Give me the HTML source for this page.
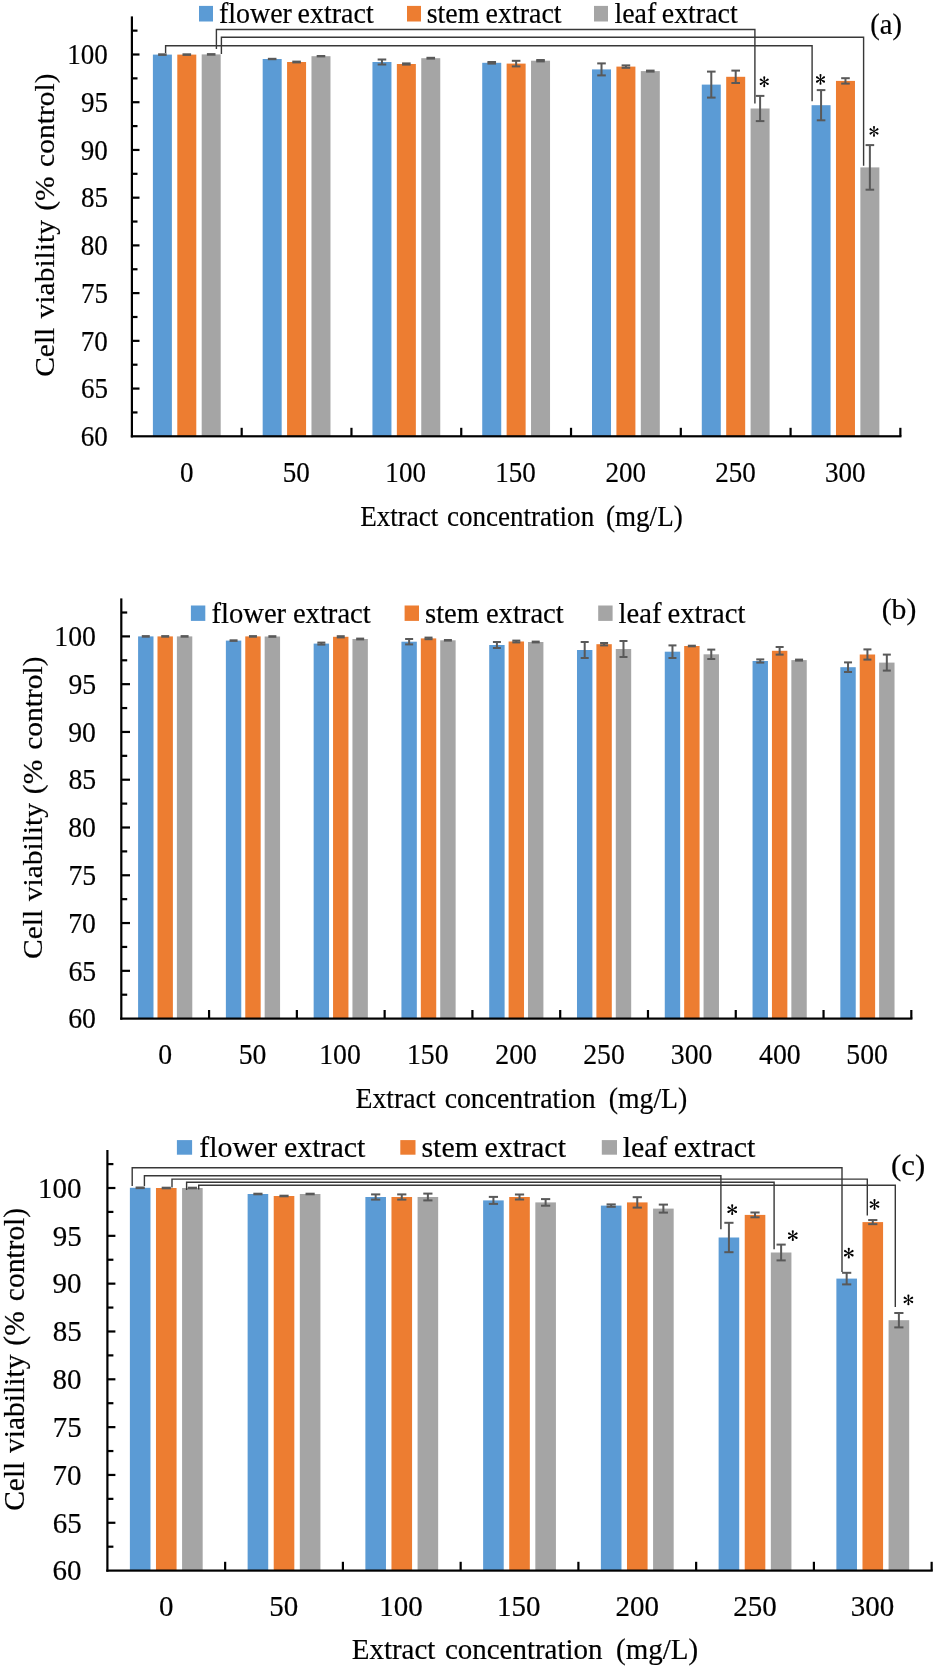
<!DOCTYPE html><html><head><meta charset="utf-8"><style>html,body{margin:0;padding:0;background:#fff;overflow:hidden}svg{display:block;will-change:transform}text{font-family:"Liberation Serif",serif;fill:#000;stroke:#000;stroke-width:0.2px;white-space:pre}</style></head><body>
<svg width="935" height="1668" viewBox="0 0 935 1668">
<rect width="935" height="1668" fill="#fff"/>
<rect x="152.89" y="54.60" width="19.00" height="381.70" fill="#5B9BD5"/>
<rect x="177.29" y="54.60" width="19.00" height="381.70" fill="#ED7D31"/>
<rect x="201.69" y="54.40" width="19.00" height="381.90" fill="#A5A5A5"/>
<rect x="262.67" y="59.00" width="19.00" height="377.30" fill="#5B9BD5"/>
<rect x="287.07" y="62.00" width="19.00" height="374.30" fill="#ED7D31"/>
<rect x="311.47" y="56.20" width="19.00" height="380.10" fill="#A5A5A5"/>
<rect x="372.45" y="62.00" width="19.00" height="374.30" fill="#5B9BD5"/>
<rect x="396.85" y="64.00" width="19.00" height="372.30" fill="#ED7D31"/>
<rect x="421.25" y="58.20" width="19.00" height="378.10" fill="#A5A5A5"/>
<rect x="482.23" y="62.80" width="19.00" height="373.50" fill="#5B9BD5"/>
<rect x="506.63" y="63.60" width="19.00" height="372.70" fill="#ED7D31"/>
<rect x="531.03" y="60.70" width="19.00" height="375.60" fill="#A5A5A5"/>
<rect x="592.01" y="69.40" width="19.00" height="366.90" fill="#5B9BD5"/>
<rect x="616.41" y="66.60" width="19.00" height="369.70" fill="#ED7D31"/>
<rect x="640.81" y="71.10" width="19.00" height="365.20" fill="#A5A5A5"/>
<rect x="701.79" y="84.60" width="19.00" height="351.70" fill="#5B9BD5"/>
<rect x="726.19" y="76.80" width="19.00" height="359.50" fill="#ED7D31"/>
<rect x="750.59" y="108.50" width="19.00" height="327.80" fill="#A5A5A5"/>
<rect x="811.57" y="105.20" width="19.00" height="331.10" fill="#5B9BD5"/>
<rect x="835.97" y="80.90" width="19.00" height="355.40" fill="#ED7D31"/>
<rect x="860.37" y="167.40" width="19.00" height="268.90" fill="#A5A5A5"/>
<rect x="158.09" y="53.30" width="8.60" height="2.60" fill="#595959"/>
<rect x="182.49" y="53.30" width="8.60" height="2.60" fill="#595959"/>
<rect x="206.89" y="53.10" width="8.60" height="2.60" fill="#595959"/>
<rect x="267.87" y="57.80" width="8.60" height="2.40" fill="#595959"/>
<rect x="292.27" y="60.60" width="8.60" height="2.80" fill="#595959"/>
<rect x="316.67" y="55.00" width="8.60" height="2.40" fill="#595959"/>
<rect x="380.95" y="59.50" width="2.00" height="5.00" fill="#595959"/>
<rect x="377.65" y="58.50" width="8.60" height="2.00" fill="#595959"/>
<rect x="377.65" y="63.50" width="8.60" height="2.00" fill="#595959"/>
<rect x="402.05" y="62.40" width="8.60" height="3.20" fill="#595959"/>
<rect x="426.45" y="56.80" width="8.60" height="2.80" fill="#595959"/>
<rect x="490.73" y="62.00" width="2.00" height="1.60" fill="#595959"/>
<rect x="487.43" y="61.00" width="8.60" height="2.00" fill="#595959"/>
<rect x="487.43" y="62.60" width="8.60" height="2.00" fill="#595959"/>
<rect x="515.13" y="60.80" width="2.00" height="5.60" fill="#595959"/>
<rect x="511.83" y="59.80" width="8.60" height="2.00" fill="#595959"/>
<rect x="511.83" y="65.40" width="8.60" height="2.00" fill="#595959"/>
<rect x="539.53" y="60.00" width="2.00" height="1.40" fill="#595959"/>
<rect x="536.23" y="59.00" width="8.60" height="2.00" fill="#595959"/>
<rect x="536.23" y="60.40" width="8.60" height="2.00" fill="#595959"/>
<rect x="600.51" y="63.40" width="2.00" height="12.00" fill="#595959"/>
<rect x="597.21" y="62.40" width="8.60" height="2.00" fill="#595959"/>
<rect x="597.21" y="74.40" width="8.60" height="2.00" fill="#595959"/>
<rect x="624.91" y="65.40" width="2.00" height="2.40" fill="#595959"/>
<rect x="621.61" y="64.40" width="8.60" height="2.00" fill="#595959"/>
<rect x="621.61" y="66.80" width="8.60" height="2.00" fill="#595959"/>
<rect x="646.01" y="69.60" width="8.60" height="3.00" fill="#595959"/>
<rect x="710.29" y="71.60" width="2.00" height="26.00" fill="#595959"/>
<rect x="706.99" y="70.60" width="8.60" height="2.00" fill="#595959"/>
<rect x="706.99" y="96.60" width="8.60" height="2.00" fill="#595959"/>
<rect x="734.69" y="70.60" width="2.00" height="12.40" fill="#595959"/>
<rect x="731.39" y="69.60" width="8.60" height="2.00" fill="#595959"/>
<rect x="731.39" y="82.00" width="8.60" height="2.00" fill="#595959"/>
<rect x="759.09" y="95.90" width="2.00" height="25.20" fill="#595959"/>
<rect x="755.79" y="94.90" width="8.60" height="2.00" fill="#595959"/>
<rect x="755.79" y="120.10" width="8.60" height="2.00" fill="#595959"/>
<rect x="820.07" y="90.10" width="2.00" height="30.20" fill="#595959"/>
<rect x="816.77" y="89.10" width="8.60" height="2.00" fill="#595959"/>
<rect x="816.77" y="119.30" width="8.60" height="2.00" fill="#595959"/>
<rect x="844.47" y="78.20" width="2.00" height="5.40" fill="#595959"/>
<rect x="841.17" y="77.20" width="8.60" height="2.00" fill="#595959"/>
<rect x="841.17" y="82.60" width="8.60" height="2.00" fill="#595959"/>
<rect x="868.87" y="145.10" width="2.00" height="44.60" fill="#595959"/>
<rect x="865.57" y="144.10" width="8.60" height="2.00" fill="#595959"/>
<rect x="865.57" y="188.70" width="8.60" height="2.00" fill="#595959"/>
<rect x="130.80" y="16.40" width="2.20" height="421.00" fill="#000"/>
<rect x="130.80" y="435.20" width="770.66" height="2.20" fill="#000"/>
<rect x="131.90" y="411.34" width="5.60" height="2.20" fill="#000"/>
<rect x="131.90" y="387.47" width="7.60" height="2.20" fill="#000"/>
<rect x="131.90" y="363.61" width="5.60" height="2.20" fill="#000"/>
<rect x="131.90" y="339.75" width="7.60" height="2.20" fill="#000"/>
<rect x="131.90" y="315.89" width="5.60" height="2.20" fill="#000"/>
<rect x="131.90" y="292.02" width="7.60" height="2.20" fill="#000"/>
<rect x="131.90" y="268.16" width="5.60" height="2.20" fill="#000"/>
<rect x="131.90" y="244.30" width="7.60" height="2.20" fill="#000"/>
<rect x="131.90" y="220.44" width="5.60" height="2.20" fill="#000"/>
<rect x="131.90" y="196.58" width="7.60" height="2.20" fill="#000"/>
<rect x="131.90" y="172.71" width="5.60" height="2.20" fill="#000"/>
<rect x="131.90" y="148.85" width="7.60" height="2.20" fill="#000"/>
<rect x="131.90" y="124.99" width="5.60" height="2.20" fill="#000"/>
<rect x="131.90" y="101.12" width="7.60" height="2.20" fill="#000"/>
<rect x="131.90" y="77.26" width="5.60" height="2.20" fill="#000"/>
<rect x="131.90" y="53.40" width="7.60" height="2.20" fill="#000"/>
<rect x="131.90" y="29.54" width="5.60" height="2.20" fill="#000"/>
<rect x="240.58" y="427.80" width="2.20" height="8.50" fill="#000"/>
<rect x="350.36" y="427.80" width="2.20" height="8.50" fill="#000"/>
<rect x="460.14" y="427.80" width="2.20" height="8.50" fill="#000"/>
<rect x="569.92" y="427.80" width="2.20" height="8.50" fill="#000"/>
<rect x="679.70" y="427.80" width="2.20" height="8.50" fill="#000"/>
<rect x="789.48" y="427.80" width="2.20" height="8.50" fill="#000"/>
<rect x="899.26" y="427.80" width="2.20" height="8.50" fill="#000"/>
<text transform="translate(80.67,446.05) scale(0.917,1)" font-size="29.5">60</text>
<text transform="translate(80.89,398.32) scale(0.917,1)" font-size="29.5">65</text>
<text transform="translate(80.67,350.60) scale(0.917,1)" font-size="29.5">70</text>
<text transform="translate(80.89,302.75) scale(0.917,1)" font-size="29.5">75</text>
<text transform="translate(80.67,255.15) scale(0.917,1)" font-size="29.5">80</text>
<text transform="translate(80.89,207.43) scale(0.917,1)" font-size="29.5">85</text>
<text transform="translate(80.67,159.70) scale(0.917,1)" font-size="29.5">90</text>
<text transform="translate(80.89,111.97) scale(0.917,1)" font-size="29.5">95</text>
<text transform="translate(67.14,64.25) scale(0.917,1)" font-size="29.5">100</text>
<text transform="translate(180.03,482.35) scale(0.917,1)" font-size="29.5">0</text>
<text transform="translate(282.70,482.35) scale(0.917,1)" font-size="29.5">50</text>
<text transform="translate(385.37,482.35) scale(0.917,1)" font-size="29.5">100</text>
<text transform="translate(495.15,482.35) scale(0.917,1)" font-size="29.5">150</text>
<text transform="translate(605.51,482.35) scale(0.917,1)" font-size="29.5">200</text>
<text transform="translate(715.29,482.35) scale(0.917,1)" font-size="29.5">250</text>
<text transform="translate(824.95,482.35) scale(0.917,1)" font-size="29.5">300</text>
<text transform="translate(360.21,525.90) scale(0.917,1)" font-size="29.5">Extract</text>
<text transform="translate(446.98,525.90) scale(0.917,1)" font-size="29.5">concentration</text>
<text transform="translate(606.05,525.90) scale(0.917,1)" font-size="29.5">(mg/L)</text>
<text transform="translate(53.80,376.85) rotate(-90) scale(1,0.917)" font-size="29.5">Cell</text>
<text transform="translate(53.80,318.40) rotate(-90) scale(1,0.917)" font-size="29.5">viability</text>
<text transform="translate(53.80,210.85) rotate(-90) scale(1,0.917)" font-size="29.5">(%</text>
<text transform="translate(53.80,166.90) rotate(-90) scale(1,0.917)" font-size="29.5">control)</text>
<rect x="199.00" y="5.90" width="14.00" height="15.60" fill="#5B9BD5"/>
<text transform="translate(218.95,23.40) scale(0.948,1)" font-size="29.5">flower</text>
<text transform="translate(297.62,23.40) scale(0.948,1)" font-size="29.5">extract</text>
<rect x="407.00" y="5.90" width="14.00" height="15.60" fill="#ED7D31"/>
<text transform="translate(426.71,23.40) scale(0.948,1)" font-size="29.5">stem</text>
<text transform="translate(485.51,23.40) scale(0.948,1)" font-size="29.5">extract</text>
<rect x="594.00" y="5.90" width="14.00" height="15.60" fill="#A5A5A5"/>
<text transform="translate(614.43,23.40) scale(0.948,1)" font-size="29.5">leaf</text>
<text transform="translate(661.72,23.40) scale(0.948,1)" font-size="29.5">extract</text>
<text transform="translate(870.29,33.72) scale(0.9700000000000008,1)" font-size="29.4">(a)</text>
<path d="M165.60,53.00 V45.70 H812.10 V101.20" fill="none" stroke="#383838" stroke-width="1.4"/>
<path d="M216.40,49.00 V29.50 H754.90 V103.50" fill="none" stroke="#383838" stroke-width="1.4"/>
<path d="M221.40,54.00 V37.30 H863.60 V165.80" fill="none" stroke="#383838" stroke-width="1.4"/>
<path transform="translate(764.25,81.75) scale(0.933,1)" d="M-0.220,-0.000L0.220,0.000L1.019,-4.097A1.05,1.05 0 1 0 -1.019,-4.097ZM-0.110,0.191L0.110,-0.191L-3.038,-2.931A1.05,1.05 0 1 0 -4.057,-1.166ZM0.110,0.191L-0.110,-0.191L-4.057,1.166A1.05,1.05 0 1 0 -3.038,2.931ZM0.220,0.000L-0.220,-0.000L-1.019,4.097A1.05,1.05 0 1 0 1.019,4.097ZM0.110,-0.191L-0.110,0.191L3.038,2.931A1.05,1.05 0 1 0 4.057,1.166ZM-0.110,-0.191L0.110,0.191L4.057,-1.166A1.05,1.05 0 1 0 3.038,-2.931Z" fill="#000"/>
<circle cx="764.25" cy="81.75" r="0.75" fill="#000"/>
<path transform="translate(820.50,79.45) scale(0.933,1)" d="M-0.220,-0.000L0.220,0.000L1.019,-4.097A1.05,1.05 0 1 0 -1.019,-4.097ZM-0.110,0.191L0.110,-0.191L-3.038,-2.931A1.05,1.05 0 1 0 -4.057,-1.166ZM0.110,0.191L-0.110,-0.191L-4.057,1.166A1.05,1.05 0 1 0 -3.038,2.931ZM0.220,0.000L-0.220,-0.000L-1.019,4.097A1.05,1.05 0 1 0 1.019,4.097ZM0.110,-0.191L-0.110,0.191L3.038,2.931A1.05,1.05 0 1 0 4.057,1.166ZM-0.110,-0.191L0.110,0.191L4.057,-1.166A1.05,1.05 0 1 0 3.038,-2.931Z" fill="#000"/>
<circle cx="820.50" cy="79.45" r="0.75" fill="#000"/>
<path transform="translate(874.00,131.35) scale(0.933,1)" d="M-0.220,-0.000L0.220,0.000L1.019,-4.097A1.05,1.05 0 1 0 -1.019,-4.097ZM-0.110,0.191L0.110,-0.191L-3.038,-2.931A1.05,1.05 0 1 0 -4.057,-1.166ZM0.110,0.191L-0.110,-0.191L-4.057,1.166A1.05,1.05 0 1 0 -3.038,2.931ZM0.220,0.000L-0.220,-0.000L-1.019,4.097A1.05,1.05 0 1 0 1.019,4.097ZM0.110,-0.191L-0.110,0.191L3.038,2.931A1.05,1.05 0 1 0 4.057,1.166ZM-0.110,-0.191L0.110,0.191L4.057,-1.166A1.05,1.05 0 1 0 3.038,-2.931Z" fill="#000"/>
<circle cx="874.00" cy="131.35" r="0.75" fill="#000"/>
<rect x="138.09" y="636.40" width="15.40" height="382.20" fill="#5B9BD5"/>
<rect x="157.49" y="636.40" width="15.40" height="382.20" fill="#ED7D31"/>
<rect x="176.89" y="636.40" width="15.40" height="382.20" fill="#A5A5A5"/>
<rect x="225.87" y="640.60" width="15.40" height="378.00" fill="#5B9BD5"/>
<rect x="245.27" y="636.40" width="15.40" height="382.20" fill="#ED7D31"/>
<rect x="264.67" y="636.50" width="15.40" height="382.10" fill="#A5A5A5"/>
<rect x="313.65" y="643.60" width="15.40" height="375.00" fill="#5B9BD5"/>
<rect x="333.05" y="636.80" width="15.40" height="381.80" fill="#ED7D31"/>
<rect x="352.45" y="639.00" width="15.40" height="379.60" fill="#A5A5A5"/>
<rect x="401.43" y="641.70" width="15.40" height="376.90" fill="#5B9BD5"/>
<rect x="420.83" y="638.40" width="15.40" height="380.20" fill="#ED7D31"/>
<rect x="440.23" y="640.30" width="15.40" height="378.30" fill="#A5A5A5"/>
<rect x="489.21" y="645.00" width="15.40" height="373.60" fill="#5B9BD5"/>
<rect x="508.61" y="641.50" width="15.40" height="377.10" fill="#ED7D31"/>
<rect x="528.01" y="642.00" width="15.40" height="376.60" fill="#A5A5A5"/>
<rect x="576.99" y="650.00" width="15.40" height="368.60" fill="#5B9BD5"/>
<rect x="596.39" y="644.20" width="15.40" height="374.40" fill="#ED7D31"/>
<rect x="615.79" y="649.00" width="15.40" height="369.60" fill="#A5A5A5"/>
<rect x="664.77" y="651.70" width="15.40" height="366.90" fill="#5B9BD5"/>
<rect x="684.17" y="646.00" width="15.40" height="372.60" fill="#ED7D31"/>
<rect x="703.57" y="654.30" width="15.40" height="364.30" fill="#A5A5A5"/>
<rect x="752.55" y="661.00" width="15.40" height="357.60" fill="#5B9BD5"/>
<rect x="771.95" y="650.80" width="15.40" height="367.80" fill="#ED7D31"/>
<rect x="791.35" y="660.10" width="15.40" height="358.50" fill="#A5A5A5"/>
<rect x="840.33" y="667.20" width="15.40" height="351.40" fill="#5B9BD5"/>
<rect x="859.73" y="654.50" width="15.40" height="364.10" fill="#ED7D31"/>
<rect x="879.13" y="662.60" width="15.40" height="356.00" fill="#A5A5A5"/>
<rect x="141.79" y="635.10" width="8.00" height="2.60" fill="#595959"/>
<rect x="161.19" y="635.10" width="8.00" height="2.60" fill="#595959"/>
<rect x="180.59" y="635.10" width="8.00" height="2.60" fill="#595959"/>
<rect x="229.57" y="639.30" width="8.00" height="2.60" fill="#595959"/>
<rect x="248.97" y="635.10" width="8.00" height="2.60" fill="#595959"/>
<rect x="268.37" y="635.20" width="8.00" height="2.60" fill="#595959"/>
<rect x="320.35" y="642.60" width="2.00" height="2.00" fill="#595959"/>
<rect x="317.35" y="641.60" width="8.00" height="2.00" fill="#595959"/>
<rect x="317.35" y="643.60" width="8.00" height="2.00" fill="#595959"/>
<rect x="336.75" y="635.20" width="8.00" height="3.20" fill="#595959"/>
<rect x="356.15" y="637.60" width="8.00" height="2.80" fill="#595959"/>
<rect x="408.13" y="639.00" width="2.00" height="5.40" fill="#595959"/>
<rect x="405.13" y="638.00" width="8.00" height="2.00" fill="#595959"/>
<rect x="405.13" y="643.40" width="8.00" height="2.00" fill="#595959"/>
<rect x="427.53" y="637.60" width="2.00" height="1.60" fill="#595959"/>
<rect x="424.53" y="636.60" width="8.00" height="2.00" fill="#595959"/>
<rect x="424.53" y="638.20" width="8.00" height="2.00" fill="#595959"/>
<rect x="443.93" y="639.00" width="8.00" height="2.60" fill="#595959"/>
<rect x="495.91" y="642.00" width="2.00" height="6.00" fill="#595959"/>
<rect x="492.91" y="641.00" width="8.00" height="2.00" fill="#595959"/>
<rect x="492.91" y="647.00" width="8.00" height="2.00" fill="#595959"/>
<rect x="515.31" y="640.60" width="2.00" height="1.80" fill="#595959"/>
<rect x="512.31" y="639.60" width="8.00" height="2.00" fill="#595959"/>
<rect x="512.31" y="641.40" width="8.00" height="2.00" fill="#595959"/>
<rect x="531.71" y="640.60" width="8.00" height="2.80" fill="#595959"/>
<rect x="583.69" y="642.00" width="2.00" height="16.00" fill="#595959"/>
<rect x="580.69" y="641.00" width="8.00" height="2.00" fill="#595959"/>
<rect x="580.69" y="657.00" width="8.00" height="2.00" fill="#595959"/>
<rect x="603.09" y="643.00" width="2.00" height="2.40" fill="#595959"/>
<rect x="600.09" y="642.00" width="8.00" height="2.00" fill="#595959"/>
<rect x="600.09" y="644.40" width="8.00" height="2.00" fill="#595959"/>
<rect x="622.49" y="641.00" width="2.00" height="16.00" fill="#595959"/>
<rect x="619.49" y="640.00" width="8.00" height="2.00" fill="#595959"/>
<rect x="619.49" y="656.00" width="8.00" height="2.00" fill="#595959"/>
<rect x="671.47" y="645.40" width="2.00" height="12.60" fill="#595959"/>
<rect x="668.47" y="644.40" width="8.00" height="2.00" fill="#595959"/>
<rect x="668.47" y="657.00" width="8.00" height="2.00" fill="#595959"/>
<rect x="687.87" y="644.70" width="8.00" height="2.60" fill="#595959"/>
<rect x="710.27" y="649.60" width="2.00" height="9.40" fill="#595959"/>
<rect x="707.27" y="648.60" width="8.00" height="2.00" fill="#595959"/>
<rect x="707.27" y="658.00" width="8.00" height="2.00" fill="#595959"/>
<rect x="759.25" y="659.40" width="2.00" height="3.20" fill="#595959"/>
<rect x="756.25" y="658.40" width="8.00" height="2.00" fill="#595959"/>
<rect x="756.25" y="661.60" width="8.00" height="2.00" fill="#595959"/>
<rect x="778.65" y="647.00" width="2.00" height="7.60" fill="#595959"/>
<rect x="775.65" y="646.00" width="8.00" height="2.00" fill="#595959"/>
<rect x="775.65" y="653.60" width="8.00" height="2.00" fill="#595959"/>
<rect x="795.05" y="658.60" width="8.00" height="3.00" fill="#595959"/>
<rect x="847.03" y="662.40" width="2.00" height="9.60" fill="#595959"/>
<rect x="844.03" y="661.40" width="8.00" height="2.00" fill="#595959"/>
<rect x="844.03" y="671.00" width="8.00" height="2.00" fill="#595959"/>
<rect x="866.43" y="649.40" width="2.00" height="10.20" fill="#595959"/>
<rect x="863.43" y="648.40" width="8.00" height="2.00" fill="#595959"/>
<rect x="863.43" y="658.60" width="8.00" height="2.00" fill="#595959"/>
<rect x="885.83" y="654.60" width="2.00" height="16.00" fill="#595959"/>
<rect x="882.83" y="653.60" width="8.00" height="2.00" fill="#595959"/>
<rect x="882.83" y="669.60" width="8.00" height="2.00" fill="#595959"/>
<rect x="120.20" y="598.40" width="2.20" height="421.30" fill="#000"/>
<rect x="120.20" y="1017.50" width="792.22" height="2.20" fill="#000"/>
<rect x="121.30" y="993.61" width="5.90" height="2.20" fill="#000"/>
<rect x="121.30" y="969.73" width="8.70" height="2.20" fill="#000"/>
<rect x="121.30" y="945.84" width="5.90" height="2.20" fill="#000"/>
<rect x="121.30" y="921.95" width="8.70" height="2.20" fill="#000"/>
<rect x="121.30" y="898.06" width="5.90" height="2.20" fill="#000"/>
<rect x="121.30" y="874.17" width="8.70" height="2.20" fill="#000"/>
<rect x="121.30" y="850.29" width="5.90" height="2.20" fill="#000"/>
<rect x="121.30" y="826.40" width="8.70" height="2.20" fill="#000"/>
<rect x="121.30" y="802.51" width="5.90" height="2.20" fill="#000"/>
<rect x="121.30" y="778.62" width="8.70" height="2.20" fill="#000"/>
<rect x="121.30" y="754.74" width="5.90" height="2.20" fill="#000"/>
<rect x="121.30" y="730.85" width="8.70" height="2.20" fill="#000"/>
<rect x="121.30" y="706.96" width="5.90" height="2.20" fill="#000"/>
<rect x="121.30" y="683.07" width="8.70" height="2.20" fill="#000"/>
<rect x="121.30" y="659.19" width="5.90" height="2.20" fill="#000"/>
<rect x="121.30" y="635.30" width="8.70" height="2.20" fill="#000"/>
<rect x="121.30" y="611.41" width="5.90" height="2.20" fill="#000"/>
<rect x="207.98" y="1010.00" width="2.20" height="8.60" fill="#000"/>
<rect x="295.76" y="1010.00" width="2.20" height="8.60" fill="#000"/>
<rect x="383.54" y="1010.00" width="2.20" height="8.60" fill="#000"/>
<rect x="471.32" y="1010.00" width="2.20" height="8.60" fill="#000"/>
<rect x="559.10" y="1010.00" width="2.20" height="8.60" fill="#000"/>
<rect x="646.88" y="1010.00" width="2.20" height="8.60" fill="#000"/>
<rect x="734.66" y="1010.00" width="2.20" height="8.60" fill="#000"/>
<rect x="822.44" y="1010.00" width="2.20" height="8.60" fill="#000"/>
<rect x="910.22" y="1010.00" width="2.20" height="8.60" fill="#000"/>
<text transform="translate(68.18,1028.35) scale(0.941,1)" font-size="29.5">60</text>
<text transform="translate(68.42,980.58) scale(0.941,1)" font-size="29.5">65</text>
<text transform="translate(68.18,932.80) scale(0.941,1)" font-size="29.5">70</text>
<text transform="translate(68.42,884.90) scale(0.941,1)" font-size="29.5">75</text>
<text transform="translate(68.18,837.25) scale(0.941,1)" font-size="29.5">80</text>
<text transform="translate(68.42,789.48) scale(0.941,1)" font-size="29.5">85</text>
<text transform="translate(68.18,741.70) scale(0.941,1)" font-size="29.5">90</text>
<text transform="translate(68.42,693.92) scale(0.941,1)" font-size="29.5">95</text>
<text transform="translate(54.30,646.15) scale(0.941,1)" font-size="29.5">100</text>
<text transform="translate(158.25,1063.65) scale(0.941,1)" font-size="29.5">0</text>
<text transform="translate(238.74,1063.65) scale(0.941,1)" font-size="29.5">50</text>
<text transform="translate(319.22,1063.65) scale(0.941,1)" font-size="29.5">100</text>
<text transform="translate(407.00,1063.65) scale(0.941,1)" font-size="29.5">150</text>
<text transform="translate(495.37,1063.65) scale(0.941,1)" font-size="29.5">200</text>
<text transform="translate(583.15,1063.65) scale(0.941,1)" font-size="29.5">250</text>
<text transform="translate(670.82,1063.65) scale(0.941,1)" font-size="29.5">300</text>
<text transform="translate(759.07,1063.65) scale(0.941,1)" font-size="29.5">400</text>
<text transform="translate(846.26,1063.65) scale(0.941,1)" font-size="29.5">500</text>
<text transform="translate(355.49,1107.70) scale(0.941,1)" font-size="29.5">Extract</text>
<text transform="translate(444.66,1107.70) scale(0.941,1)" font-size="29.5">concentration</text>
<text transform="translate(608.72,1107.70) scale(0.941,1)" font-size="29.5">(mg/L)</text>
<text transform="translate(41.80,958.95) rotate(-90) scale(1,0.941)" font-size="29.5">Cell</text>
<text transform="translate(41.80,901.30) rotate(-90) scale(1,0.941)" font-size="29.5">viability</text>
<text transform="translate(41.80,794.15) rotate(-90) scale(1,0.941)" font-size="29.5">(%</text>
<text transform="translate(41.80,749.80) rotate(-90) scale(1,0.941)" font-size="29.5">control)</text>
<rect x="190.90" y="605.50" width="14.40" height="15.40" fill="#5B9BD5"/>
<text transform="translate(211.43,622.90) scale(0.971,1)" font-size="29.5">flower</text>
<text transform="translate(292.89,622.90) scale(0.971,1)" font-size="29.5">extract</text>
<rect x="404.60" y="605.50" width="14.40" height="15.40" fill="#ED7D31"/>
<text transform="translate(424.99,622.90) scale(0.971,1)" font-size="29.5">stem</text>
<text transform="translate(485.89,622.90) scale(0.971,1)" font-size="29.5">extract</text>
<rect x="598.20" y="605.50" width="14.40" height="15.40" fill="#A5A5A5"/>
<text transform="translate(618.61,622.90) scale(0.971,1)" font-size="29.5">leaf</text>
<text transform="translate(667.59,622.90) scale(0.971,1)" font-size="29.5">extract</text>
<text transform="translate(881.74,618.75) scale(1.0078740157480315,1)" font-size="29.4">(b)</text>
<rect x="129.88" y="1187.80" width="20.60" height="382.80" fill="#5B9BD5"/>
<rect x="155.97" y="1188.00" width="20.60" height="382.60" fill="#ED7D31"/>
<rect x="182.07" y="1188.00" width="20.60" height="382.60" fill="#A5A5A5"/>
<rect x="247.62" y="1194.00" width="20.60" height="376.60" fill="#5B9BD5"/>
<rect x="273.72" y="1196.00" width="20.60" height="374.60" fill="#ED7D31"/>
<rect x="299.82" y="1194.00" width="20.60" height="376.60" fill="#A5A5A5"/>
<rect x="365.37" y="1197.00" width="20.60" height="373.60" fill="#5B9BD5"/>
<rect x="391.47" y="1197.00" width="20.60" height="373.60" fill="#ED7D31"/>
<rect x="417.57" y="1197.00" width="20.60" height="373.60" fill="#A5A5A5"/>
<rect x="483.12" y="1200.40" width="20.60" height="370.20" fill="#5B9BD5"/>
<rect x="509.22" y="1197.00" width="20.60" height="373.60" fill="#ED7D31"/>
<rect x="535.33" y="1202.40" width="20.60" height="368.20" fill="#A5A5A5"/>
<rect x="600.88" y="1205.60" width="20.60" height="365.00" fill="#5B9BD5"/>
<rect x="626.98" y="1202.40" width="20.60" height="368.20" fill="#ED7D31"/>
<rect x="653.08" y="1208.60" width="20.60" height="362.00" fill="#A5A5A5"/>
<rect x="718.62" y="1237.50" width="20.60" height="333.10" fill="#5B9BD5"/>
<rect x="744.73" y="1214.90" width="20.60" height="355.70" fill="#ED7D31"/>
<rect x="770.83" y="1252.50" width="20.60" height="318.10" fill="#A5A5A5"/>
<rect x="836.38" y="1278.60" width="20.60" height="292.00" fill="#5B9BD5"/>
<rect x="862.48" y="1222.10" width="20.60" height="348.50" fill="#ED7D31"/>
<rect x="888.58" y="1320.20" width="20.60" height="250.40" fill="#A5A5A5"/>
<rect x="135.58" y="1186.50" width="9.20" height="2.60" fill="#595959"/>
<rect x="161.68" y="1186.70" width="9.20" height="2.60" fill="#595959"/>
<rect x="187.78" y="1186.70" width="9.20" height="2.60" fill="#595959"/>
<rect x="253.32" y="1192.70" width="9.20" height="2.60" fill="#595959"/>
<rect x="279.42" y="1194.70" width="9.20" height="2.60" fill="#595959"/>
<rect x="305.52" y="1192.70" width="9.20" height="2.60" fill="#595959"/>
<rect x="374.67" y="1194.40" width="2.00" height="5.20" fill="#595959"/>
<rect x="371.07" y="1193.40" width="9.20" height="2.00" fill="#595959"/>
<rect x="371.07" y="1198.60" width="9.20" height="2.00" fill="#595959"/>
<rect x="400.77" y="1194.40" width="2.00" height="5.20" fill="#595959"/>
<rect x="397.17" y="1193.40" width="9.20" height="2.00" fill="#595959"/>
<rect x="397.17" y="1198.60" width="9.20" height="2.00" fill="#595959"/>
<rect x="426.88" y="1193.60" width="2.00" height="6.80" fill="#595959"/>
<rect x="423.27" y="1192.60" width="9.20" height="2.00" fill="#595959"/>
<rect x="423.27" y="1199.40" width="9.20" height="2.00" fill="#595959"/>
<rect x="492.42" y="1196.90" width="2.00" height="7.00" fill="#595959"/>
<rect x="488.82" y="1195.90" width="9.20" height="2.00" fill="#595959"/>
<rect x="488.82" y="1202.90" width="9.20" height="2.00" fill="#595959"/>
<rect x="518.52" y="1194.50" width="2.00" height="5.00" fill="#595959"/>
<rect x="514.92" y="1193.50" width="9.20" height="2.00" fill="#595959"/>
<rect x="514.92" y="1198.50" width="9.20" height="2.00" fill="#595959"/>
<rect x="544.62" y="1199.10" width="2.00" height="6.60" fill="#595959"/>
<rect x="541.02" y="1198.10" width="9.20" height="2.00" fill="#595959"/>
<rect x="541.02" y="1204.70" width="9.20" height="2.00" fill="#595959"/>
<rect x="610.17" y="1204.40" width="2.00" height="2.40" fill="#595959"/>
<rect x="606.57" y="1203.40" width="9.20" height="2.00" fill="#595959"/>
<rect x="606.57" y="1205.80" width="9.20" height="2.00" fill="#595959"/>
<rect x="636.27" y="1197.20" width="2.00" height="10.40" fill="#595959"/>
<rect x="632.67" y="1196.20" width="9.20" height="2.00" fill="#595959"/>
<rect x="632.67" y="1206.60" width="9.20" height="2.00" fill="#595959"/>
<rect x="662.38" y="1204.60" width="2.00" height="8.00" fill="#595959"/>
<rect x="658.77" y="1203.60" width="9.20" height="2.00" fill="#595959"/>
<rect x="658.77" y="1211.60" width="9.20" height="2.00" fill="#595959"/>
<rect x="727.92" y="1222.80" width="2.00" height="29.40" fill="#595959"/>
<rect x="724.32" y="1221.80" width="9.20" height="2.00" fill="#595959"/>
<rect x="724.32" y="1251.20" width="9.20" height="2.00" fill="#595959"/>
<rect x="754.02" y="1212.50" width="2.00" height="4.80" fill="#595959"/>
<rect x="750.42" y="1211.50" width="9.20" height="2.00" fill="#595959"/>
<rect x="750.42" y="1216.30" width="9.20" height="2.00" fill="#595959"/>
<rect x="780.12" y="1244.60" width="2.00" height="15.80" fill="#595959"/>
<rect x="776.52" y="1243.60" width="9.20" height="2.00" fill="#595959"/>
<rect x="776.52" y="1259.40" width="9.20" height="2.00" fill="#595959"/>
<rect x="845.67" y="1272.80" width="2.00" height="11.60" fill="#595959"/>
<rect x="842.07" y="1271.80" width="9.20" height="2.00" fill="#595959"/>
<rect x="842.07" y="1283.40" width="9.20" height="2.00" fill="#595959"/>
<rect x="871.77" y="1220.05" width="2.00" height="4.10" fill="#595959"/>
<rect x="868.17" y="1219.05" width="9.20" height="2.00" fill="#595959"/>
<rect x="868.17" y="1223.15" width="9.20" height="2.00" fill="#595959"/>
<rect x="897.88" y="1313.00" width="2.00" height="14.40" fill="#595959"/>
<rect x="894.27" y="1312.00" width="9.20" height="2.00" fill="#595959"/>
<rect x="894.27" y="1326.40" width="9.20" height="2.00" fill="#595959"/>
<rect x="106.30" y="1150.00" width="2.20" height="421.70" fill="#000"/>
<rect x="106.30" y="1569.50" width="826.45" height="2.20" fill="#000"/>
<rect x="107.40" y="1545.59" width="6.00" height="2.20" fill="#000"/>
<rect x="107.40" y="1521.67" width="8.00" height="2.20" fill="#000"/>
<rect x="107.40" y="1497.76" width="6.00" height="2.20" fill="#000"/>
<rect x="107.40" y="1473.85" width="8.00" height="2.20" fill="#000"/>
<rect x="107.40" y="1449.94" width="6.00" height="2.20" fill="#000"/>
<rect x="107.40" y="1426.03" width="8.00" height="2.20" fill="#000"/>
<rect x="107.40" y="1402.11" width="6.00" height="2.20" fill="#000"/>
<rect x="107.40" y="1378.20" width="8.00" height="2.20" fill="#000"/>
<rect x="107.40" y="1354.29" width="6.00" height="2.20" fill="#000"/>
<rect x="107.40" y="1330.38" width="8.00" height="2.20" fill="#000"/>
<rect x="107.40" y="1306.46" width="6.00" height="2.20" fill="#000"/>
<rect x="107.40" y="1282.55" width="8.00" height="2.20" fill="#000"/>
<rect x="107.40" y="1258.64" width="6.00" height="2.20" fill="#000"/>
<rect x="107.40" y="1234.73" width="8.00" height="2.20" fill="#000"/>
<rect x="107.40" y="1210.81" width="6.00" height="2.20" fill="#000"/>
<rect x="107.40" y="1186.90" width="8.00" height="2.20" fill="#000"/>
<rect x="107.40" y="1162.99" width="6.00" height="2.20" fill="#000"/>
<rect x="224.05" y="1561.80" width="2.20" height="8.80" fill="#000"/>
<rect x="341.80" y="1561.80" width="2.20" height="8.80" fill="#000"/>
<rect x="459.55" y="1561.80" width="2.20" height="8.80" fill="#000"/>
<rect x="577.30" y="1561.80" width="2.20" height="8.80" fill="#000"/>
<rect x="695.05" y="1561.80" width="2.20" height="8.80" fill="#000"/>
<rect x="812.80" y="1561.80" width="2.20" height="8.80" fill="#000"/>
<rect x="930.55" y="1561.80" width="2.20" height="8.80" fill="#000"/>
<text transform="translate(52.41,1580.35) scale(0.982,1)" font-size="29.5">60</text>
<text transform="translate(52.66,1532.52) scale(0.982,1)" font-size="29.5">65</text>
<text transform="translate(52.41,1484.70) scale(0.982,1)" font-size="29.5">70</text>
<text transform="translate(52.66,1436.75) scale(0.982,1)" font-size="29.5">75</text>
<text transform="translate(52.41,1389.05) scale(0.982,1)" font-size="29.5">80</text>
<text transform="translate(52.66,1341.22) scale(0.982,1)" font-size="29.5">85</text>
<text transform="translate(52.41,1293.40) scale(0.982,1)" font-size="29.5">90</text>
<text transform="translate(52.66,1245.58) scale(0.982,1)" font-size="29.5">95</text>
<text transform="translate(37.93,1197.75) scale(0.982,1)" font-size="29.5">100</text>
<text transform="translate(159.03,1615.75) scale(0.982,1)" font-size="29.5">0</text>
<text transform="translate(269.17,1615.75) scale(0.982,1)" font-size="29.5">50</text>
<text transform="translate(379.31,1615.75) scale(0.982,1)" font-size="29.5">100</text>
<text transform="translate(497.06,1615.75) scale(0.982,1)" font-size="29.5">150</text>
<text transform="translate(615.43,1615.75) scale(0.982,1)" font-size="29.5">200</text>
<text transform="translate(733.18,1615.75) scale(0.982,1)" font-size="29.5">250</text>
<text transform="translate(850.80,1615.75) scale(0.982,1)" font-size="29.5">300</text>
<text transform="translate(351.76,1658.90) scale(0.982,1)" font-size="29.5">Extract</text>
<text transform="translate(444.92,1658.90) scale(0.982,1)" font-size="29.5">concentration</text>
<text transform="translate(616.07,1658.90) scale(0.982,1)" font-size="29.5">(mg/L)</text>
<text transform="translate(24.20,1510.85) rotate(-90) scale(1,0.982)" font-size="29.5">Cell</text>
<text transform="translate(24.20,1452.90) rotate(-90) scale(1,0.982)" font-size="29.5">viability</text>
<text transform="translate(24.20,1345.65) rotate(-90) scale(1,0.982)" font-size="29.5">(%</text>
<text transform="translate(24.20,1301.20) rotate(-90) scale(1,0.982)" font-size="29.5">control)</text>
<rect x="176.90" y="1140.10" width="15.20" height="14.60" fill="#5B9BD5"/>
<text transform="translate(199.19,1156.80) scale(1.015,1)" font-size="29.5">flower</text>
<text transform="translate(283.93,1156.80) scale(1.015,1)" font-size="29.5">extract</text>
<rect x="400.30" y="1140.10" width="15.20" height="14.60" fill="#ED7D31"/>
<text transform="translate(421.43,1156.80) scale(1.015,1)" font-size="29.5">stem</text>
<text transform="translate(484.53,1156.80) scale(1.015,1)" font-size="29.5">extract</text>
<rect x="601.80" y="1140.10" width="15.20" height="14.60" fill="#A5A5A5"/>
<text transform="translate(622.69,1156.80) scale(1.015,1)" font-size="29.5">leaf</text>
<text transform="translate(673.83,1156.80) scale(1.015,1)" font-size="29.5">extract</text>
<text transform="translate(890.99,1174.72) scale(1.0466666666666697,1)" font-size="29.4">(c)</text>
<path d="M132.20,1186.00 V1167.70 H842.00 V1272.00" fill="none" stroke="#383838" stroke-width="1.4"/>
<path d="M144.40,1186.00 V1175.80 H720.90 V1229.20" fill="none" stroke="#383838" stroke-width="1.4"/>
<path d="M172.00,1187.50 V1179.10 H867.30 V1215.50" fill="none" stroke="#383838" stroke-width="1.4"/>
<path d="M186.60,1190.00 V1182.30 H774.10 V1249.30" fill="none" stroke="#383838" stroke-width="1.4"/>
<path d="M198.70,1189.50 V1185.30 H895.30 V1307.00" fill="none" stroke="#383838" stroke-width="1.4"/>
<path transform="translate(732.20,1209.70) scale(1.0,1)" d="M-0.220,-0.000L0.220,0.000L1.019,-4.097A1.05,1.05 0 1 0 -1.019,-4.097ZM-0.110,0.191L0.110,-0.191L-3.038,-2.931A1.05,1.05 0 1 0 -4.057,-1.166ZM0.110,0.191L-0.110,-0.191L-4.057,1.166A1.05,1.05 0 1 0 -3.038,2.931ZM0.220,0.000L-0.220,-0.000L-1.019,4.097A1.05,1.05 0 1 0 1.019,4.097ZM0.110,-0.191L-0.110,0.191L3.038,2.931A1.05,1.05 0 1 0 4.057,1.166ZM-0.110,-0.191L0.110,0.191L4.057,-1.166A1.05,1.05 0 1 0 3.038,-2.931Z" fill="#000"/>
<circle cx="732.20" cy="1209.70" r="0.75" fill="#000"/>
<path transform="translate(792.80,1235.70) scale(1.0,1)" d="M-0.220,-0.000L0.220,0.000L1.019,-4.097A1.05,1.05 0 1 0 -1.019,-4.097ZM-0.110,0.191L0.110,-0.191L-3.038,-2.931A1.05,1.05 0 1 0 -4.057,-1.166ZM0.110,0.191L-0.110,-0.191L-4.057,1.166A1.05,1.05 0 1 0 -3.038,2.931ZM0.220,0.000L-0.220,-0.000L-1.019,4.097A1.05,1.05 0 1 0 1.019,4.097ZM0.110,-0.191L-0.110,0.191L3.038,2.931A1.05,1.05 0 1 0 4.057,1.166ZM-0.110,-0.191L0.110,0.191L4.057,-1.166A1.05,1.05 0 1 0 3.038,-2.931Z" fill="#000"/>
<circle cx="792.80" cy="1235.70" r="0.75" fill="#000"/>
<path transform="translate(848.80,1253.20) scale(1.0,1)" d="M-0.220,-0.000L0.220,0.000L1.019,-4.097A1.05,1.05 0 1 0 -1.019,-4.097ZM-0.110,0.191L0.110,-0.191L-3.038,-2.931A1.05,1.05 0 1 0 -4.057,-1.166ZM0.110,0.191L-0.110,-0.191L-4.057,1.166A1.05,1.05 0 1 0 -3.038,2.931ZM0.220,0.000L-0.220,-0.000L-1.019,4.097A1.05,1.05 0 1 0 1.019,4.097ZM0.110,-0.191L-0.110,0.191L3.038,2.931A1.05,1.05 0 1 0 4.057,1.166ZM-0.110,-0.191L0.110,0.191L4.057,-1.166A1.05,1.05 0 1 0 3.038,-2.931Z" fill="#000"/>
<circle cx="848.80" cy="1253.20" r="0.75" fill="#000"/>
<path transform="translate(874.50,1204.50) scale(1.0,1)" d="M-0.220,-0.000L0.220,0.000L1.019,-4.097A1.05,1.05 0 1 0 -1.019,-4.097ZM-0.110,0.191L0.110,-0.191L-3.038,-2.931A1.05,1.05 0 1 0 -4.057,-1.166ZM0.110,0.191L-0.110,-0.191L-4.057,1.166A1.05,1.05 0 1 0 -3.038,2.931ZM0.220,0.000L-0.220,-0.000L-1.019,4.097A1.05,1.05 0 1 0 1.019,4.097ZM0.110,-0.191L-0.110,0.191L3.038,2.931A1.05,1.05 0 1 0 4.057,1.166ZM-0.110,-0.191L0.110,0.191L4.057,-1.166A1.05,1.05 0 1 0 3.038,-2.931Z" fill="#000"/>
<circle cx="874.50" cy="1204.50" r="0.75" fill="#000"/>
<path transform="translate(908.40,1299.90) scale(1.0,1)" d="M-0.220,-0.000L0.220,0.000L1.019,-4.097A1.05,1.05 0 1 0 -1.019,-4.097ZM-0.110,0.191L0.110,-0.191L-3.038,-2.931A1.05,1.05 0 1 0 -4.057,-1.166ZM0.110,0.191L-0.110,-0.191L-4.057,1.166A1.05,1.05 0 1 0 -3.038,2.931ZM0.220,0.000L-0.220,-0.000L-1.019,4.097A1.05,1.05 0 1 0 1.019,4.097ZM0.110,-0.191L-0.110,0.191L3.038,2.931A1.05,1.05 0 1 0 4.057,1.166ZM-0.110,-0.191L0.110,0.191L4.057,-1.166A1.05,1.05 0 1 0 3.038,-2.931Z" fill="#000"/>
<circle cx="908.40" cy="1299.90" r="0.75" fill="#000"/>
</svg></body></html>
